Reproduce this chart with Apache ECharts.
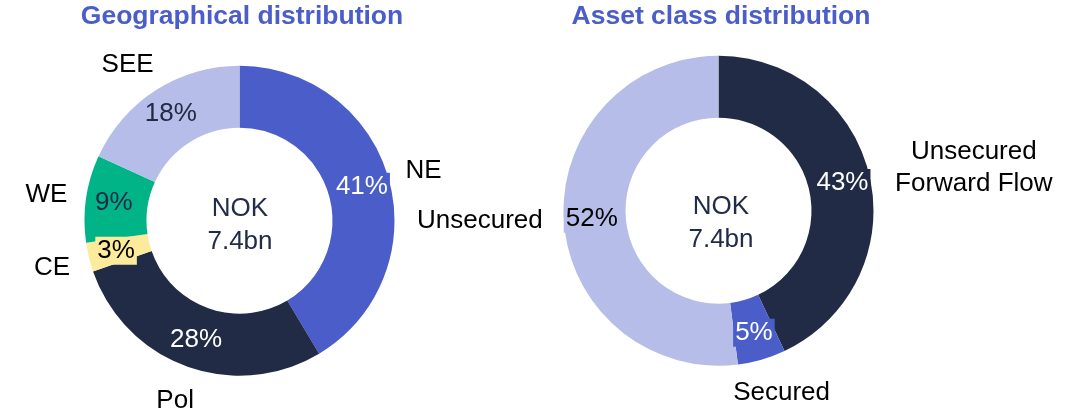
<!DOCTYPE html>
<html>
<head>
<meta charset="utf-8">
<script src="https://cdn.jsdelivr.net/npm/echarts@6/dist/echarts.min.js"></script>
<style>
html,body{margin:0;padding:0;background:#fff;}
#chart{width:1074px;height:409px;}
</style>
</head>
<body>
<div id="chart"></div>
<script>
// ---- data ----
var geoTitle = 'Geographical distribution';
var geoCategories = ['NE', 'Pol', 'CE', 'WE', 'SEE'];
var geoValues = [41, 28, 3, 9, 18];

var assetTitle = 'Asset class distribution';
var assetCategories = ['Unsecured\nForward Flow', 'Secured', 'Unsecured'];
var assetValues = [43, 5, 52];

var centerText = 'NOK\n7.4bn';

// ---- styles ----
var FONT = '"Liberation Sans", Arial, Helvetica, sans-serif';
var geoColors = ['#4A5DC8', '#212B45', '#FDEA9B', '#00B488', '#B5BDE8'];
var geoLabelColors = ['#ffffff', '#ffffff', '#000000', '#212B45', '#212B45'];
var assetColors = ['#212B45', '#4A5DC8', '#B5BDE8'];
var assetLabelColors = ['#ffffff', '#ffffff', '#000000'];
var geoNameOffsets = [[-3, 2], [2, -2], [1, 1], [-1, 2], [-7, 7]];
var assetNameOffsets = [[66, -1], [9, -4], [-45, -2]];

var geoCenter = [239.5, 220.7];
var assetCenter = [718.5, 210.7];
var ring = [93, 155];
var nameRing = [171, 211];

function valueSeries(cats, vals, colors, labelColors, center) {
  return {
    type: 'pie',
    center: center,
    radius: ring,
    startAngle: 90,
    clockwise: true,
    silent: true,
    avoidLabelOverlap: false,
    itemStyle: { borderWidth: 0 },
    label: {
      show: true,
      position: 'inside',
      fontFamily: FONT,
      fontSize: 26,
      formatter: '{c}%'
    },
    labelLine: { show: false },
    data: cats.map(function (c, i) {
      return {
        name: c,
        value: vals[i],
        itemStyle: { color: colors[i] },
        label: { color: labelColors[i], backgroundColor: colors[i], padding: [1, 2] }
      };
    })
  };
}

function nameSeries(cats, vals, center, offsets) {
  return {
    type: 'pie',
    center: center,
    radius: nameRing,
    startAngle: 90,
    clockwise: true,
    silent: true,
    avoidLabelOverlap: false,
    itemStyle: { color: 'rgba(0,0,0,0)', borderWidth: 0 },
    label: {
      show: true,
      position: 'inside',
      fontFamily: FONT,
      fontSize: 26,
      lineHeight: 32,
      color: '#000000',
      formatter: '{b}'
    },
    labelLayout: function (params) {
      var o = offsets[params.dataIndex];
      return { dx: o[0], dy: o[1] };
    },
    labelLine: { show: false },
    data: cats.map(function (c, i) { return { name: c, value: vals[i] }; })
  };
}

var chart = echarts.init(document.getElementById('chart'), null, { renderer: 'canvas' });
chart.setOption({
  backgroundColor: '#ffffff',
  animation: false,
  graphic: [
    { type: 'text', x: 242, y: 17, style: { text: geoTitle, fill: '#4A5DC8', font: 'bold 26.5px ' + FONT, textAlign: 'center', textVerticalAlign: 'middle' } },
    { type: 'text', x: 721, y: 17, style: { text: assetTitle, fill: '#4A5DC8', font: 'bold 26.5px ' + FONT, textAlign: 'center', textVerticalAlign: 'middle' } },
    { type: 'text', x: 240, y: 225, z: 10, style: { text: centerText, fill: '#222C47', font: '26px ' + FONT, lineHeight: 33, textAlign: 'center', textVerticalAlign: 'middle' } },
    { type: 'text', x: 721, y: 223.5, z: 10, style: { text: centerText, fill: '#222C47', font: '26px ' + FONT, lineHeight: 33, textAlign: 'center', textVerticalAlign: 'middle' } }
  ],
  series: [
    valueSeries(geoCategories, geoValues, geoColors, geoLabelColors, geoCenter),
    nameSeries(geoCategories, geoValues, geoCenter, geoNameOffsets),
    valueSeries(assetCategories, assetValues, assetColors, assetLabelColors, assetCenter),
    nameSeries(assetCategories, assetValues, assetCenter, assetNameOffsets)
  ]
});
</script>
</body>
</html>
